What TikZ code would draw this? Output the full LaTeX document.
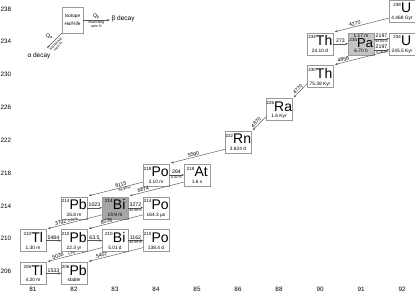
\documentclass[tikz,border=0pt]{standalone}
\usepackage{fontspec}
\setmainfont{Liberation Sans}
\usetikzlibrary{calc,arrows.meta}
\definecolor{pafill}{HTML}{C4C4C4}
\definecolor{bifill}{HTML}{A6A6A6}
\definecolor{boxline}{HTML}{999999}
\definecolor{decline}{HTML}{555555}
\tikzset{
  isobox/.style={draw=boxline, line width=0.5pt, minimum width=25.5pt, minimum height=22pt, inner sep=0pt, outer sep=0pt},
  symlab/.style={inner sep=0pt, font=\fontsize{14}{14}\selectfont},
  hllab/.style={inner sep=0pt, font=\fontsize{4.8}{4.8}\selectfont},
  qlab/.style={inner sep=0.8pt, font=\fontsize{5.2}{5.2}\selectfont},
  brlab/.style={inner sep=0.6pt, font=\fontsize{3.5}{3.7}\selectfont},
  axlab/.style={inner sep=0pt, font=\fontsize{6.3}{6.3}\selectfont},
  legtxt/.style={inner sep=0pt, font=\fontsize{6.5}{6.5}\selectfont},
  alphadecay/.style={draw=decline, line width=0.45pt, {Stealth[length=3pt,width=2.2pt]}-},
  betadecay/.style={draw=decline, line width=0.45pt, -{Stealth[length=3pt,width=2.2pt]}},
}
\newcommand\massfont{\fontsize{4.5}{4.5}\selectfont}
\newcommand\isonode[7]{%
  \node[isobox, fill=#7] (#1) at (#2,#3) {};
  \node[symlab, anchor=base] (#1-s) at ($(#1.center)+(0.3,1.6)$) {\raisebox{6.5pt}{\massfont #4}\kern0.2pt #5};
  \node[hllab, anchor=base] (#1-h) at ($(#1.south)+(0,-2.5)$) {#6};
}
\begin{document}
\begin{tikzpicture}[x=1pt,y=-1pt]
\useasboundingbox (0,0) rectangle (415,295);

% axes
\foreach \a/\yy in {238/11,234/43.8,230/76.6,226/109.4,222/142.2,218/175,214/207.8,210/240.6,206/273.4}
  \node[axlab, anchor=west] (ylab\a) at (0.4,\yy-2) {\a};
\foreach \z [count=\i from 0] in {81,82,83,84,85,86,88,90,91,92}
  \node[axlab] (xlab\z) at (33+41*\i,289) {\z};

% isotopes
\isonode{U238}{402}{11}{238}{U}{4.468 Gyr}{none}
\isonode{Th234}{320}{43.8}{234}{Th}{24.10 d}{none}
\isonode{U234}{402}{43.8}{234}{U}{245.5 Kyr}{none}
\isonode{Th230}{320}{76.6}{230}{Th}{75.38 Kyr}{none}
\isonode{Ra226}{279}{109.4}{226}{Ra}{1.6 Kyr}{none}
\isonode{Rn222}{238}{142.2}{222}{Rn}{3.824 d}{none}
\isonode{Po218}{156}{175}{218}{Po}{3.10 m}{none}
\isonode{At218}{197}{175}{218}{At}{1.6 s}{none}
\isonode{Pb214}{74}{207.8}{214}{Pb}{26.8 m}{none}
\isonode{Bi214}{115}{207.8}{214}{Bi}{19.9 m}{bifill}
\isonode{Po214}{156}{207.8}{214}{Po}{164.3 µs}{none}
\isonode{Tl210}{33}{240.6}{210}{Tl}{1.30 m}{none}
\isonode{Pb210}{74}{240.6}{210}{Pb}{22.3 yr}{none}
\isonode{Bi210}{115}{240.6}{210}{Bi}{5.01 d}{none}
\isonode{Po210}{156}{240.6}{210}{Po}{138.4 d}{none}
\isonode{Tl206}{33}{273.4}{206}{Tl}{4.20 m}{none}
\isonode{Pb206}{74}{273.4}{206}{Pb}{stable}{none}

% Pa-234 (two states)
\node[isobox, fill=pafill] (Pa234) at (361,43.8) {};
\node[hllab, anchor=base] (Pa234-m) at ($(Pa234.north)+(0,4.4)$) {1.17 m};
\node[symlab, anchor=base, font=\fontsize{13}{13}\selectfont] (Pa234-s) at ($(Pa234.center)+(0.3,3.4)$) {\raisebox{5.5pt}{\massfont 234}\kern0.2pt Pa};
\node[hllab, anchor=base] (Pa234-h) at ($(Pa234.south)+(0,-2.2)$) {6.70 h};

% alpha decays
\draw[alphadecay] ($(Th234.north east)+(2,-1)$) -- ($(U238.south west)+(0,-4)$)
  node[qlab, pos=0.38, above, sloped] {4270};
\draw[alphadecay] ($(Th230.north east)+(2,-1)$) -- ($(U234.south west)+(0,-4)$)
  node[qlab, pos=0.17, above, sloped] {4858};
\draw[alphadecay] ($(Ra226.north east)+(2,-1)$) -- ($(Th230.south west)+(0,-4)$)
  node[qlab, pos=0.45, above, sloped] {4770};
\draw[alphadecay] ($(Rn222.north east)+(2,-1)$) -- ($(Ra226.south west)+(0,-4)$)
  node[qlab, pos=0.4, above, sloped] {4870};
\draw[alphadecay] ($(Po218.north east)+(2,-1)$) -- ($(Rn222.south west)+(0,-4)$)
  node[qlab, pos=0.43, above, sloped] {5590};
\draw[alphadecay] ($(Pb214.north east)+(2,-1)$) -- ($(Po218.south west)+(0,-4)$)
  node[qlab, pos=0.6, above, sloped] {6115}
  node[brlab, pos=0.65, below, sloped] {99.98\,\%};
\draw[alphadecay] ($(Bi214.north east)+(2,-1)$) -- ($(At218.south west)+(0,-4)$)
  node[qlab, pos=0.26, above, sloped] {6874};
\draw[alphadecay] ($(Tl210.north east)+(2,-1)$) -- ($(Bi214.south west)+(0,-4)$)
  node[qlab, pos=0.25, above, sloped] {3792}
  node[brlab, pos=0.47, above, sloped] {0.02\,\%};
\draw[alphadecay] ($(Pb210.north east)+(2,-1)$) -- ($(Po214.south west)+(0,-4)$)
  node[qlab, pos=0.34, above, sloped] {8036};
\draw[alphadecay] ($(Tl206.north east)+(2,-1)$) -- ($(Bi210.south west)+(0,-4)$)
  node[qlab, pos=0.2, above, sloped] {5036}
  node[brlab, pos=0.45, above, sloped] {13\,\%};
\draw[alphadecay] ($(Pb206.north east)+(2,-1)$) -- ($(Po210.south west)+(0,-4)$)
  node[qlab, pos=0.25, above, sloped] {5407};

% beta decays
\draw[betadecay] (Th234.east) -- (Pa234.west) node[qlab, midway, above] {273};
\draw[betadecay] ($(Pa234.east)+(0,-5)$) -- ($(U234.west)+(0,-5)$)
  node[qlab, midway, above] {2197} node[brlab, midway, below] {99.84\,\%};
\draw[betadecay] ($(Pa234.east)+(0,6)$) -- ($(U234.west)+(0,6)$)
  node[qlab, midway, above] {2197} node[brlab, midway, below] {0.16\,\%};
\draw[betadecay] (Po218.east) -- (At218.west)
  node[qlab, midway, above] {264} node[brlab, midway, below] {0.02\,\%};
\draw[betadecay] (Pb214.east) -- (Bi214.west) node[qlab, midway, above] {1023};
\draw[betadecay] (Bi214.east) -- (Po214.west)
  node[qlab, midway, above] {3272} node[brlab, midway, below] {99.98\,\%};
\draw[betadecay] (Tl210.east) -- (Pb210.west) node[qlab, midway, above] {5484};
\draw[betadecay] (Pb210.east) -- (Bi210.west) node[qlab, midway, above] {63.5};
\draw[betadecay] (Bi210.east) -- (Po210.west)
  node[qlab, midway, above] {1162} node[brlab, midway, below] {99.99\,\%};
\draw[betadecay] (Tl206.east) -- (Pb206.west) node[qlab, midway, above] {1533};

% legend
\node[isobox, minimum width=21pt, minimum height=26pt, align=center, font=\fontsize{4.7}{5}\selectfont] (legend) at (72.5,20) {Isotope\\[3.5pt]Half-life};
\draw[betadecay] (legend.east) -- ++(27,0) coordinate (betaend)
  node[qlab, midway, above] {Q\textsubscript{β}}
  node[brlab, midway, below, align=center] {Branching\\ratio \%};
\node[legtxt, anchor=west] (betatxt) at ($(betaend)+(1.5,-1.5)$) {β decay};
\coordinate (alphaend) at (47,48);
\draw[alphadecay] (alphaend) -- (legend.south west)
  node[qlab, pos=0.5, above left, inner sep=1.6pt] {Q\textsubscript{α}}
  node[brlab, pos=0.42, below, sloped, align=center, inner sep=1.6pt] {branching\\ratio \%};
\node[legtxt] (alphatxt) at (39,55.5) {α decay};
\end{tikzpicture}
\end{document}
